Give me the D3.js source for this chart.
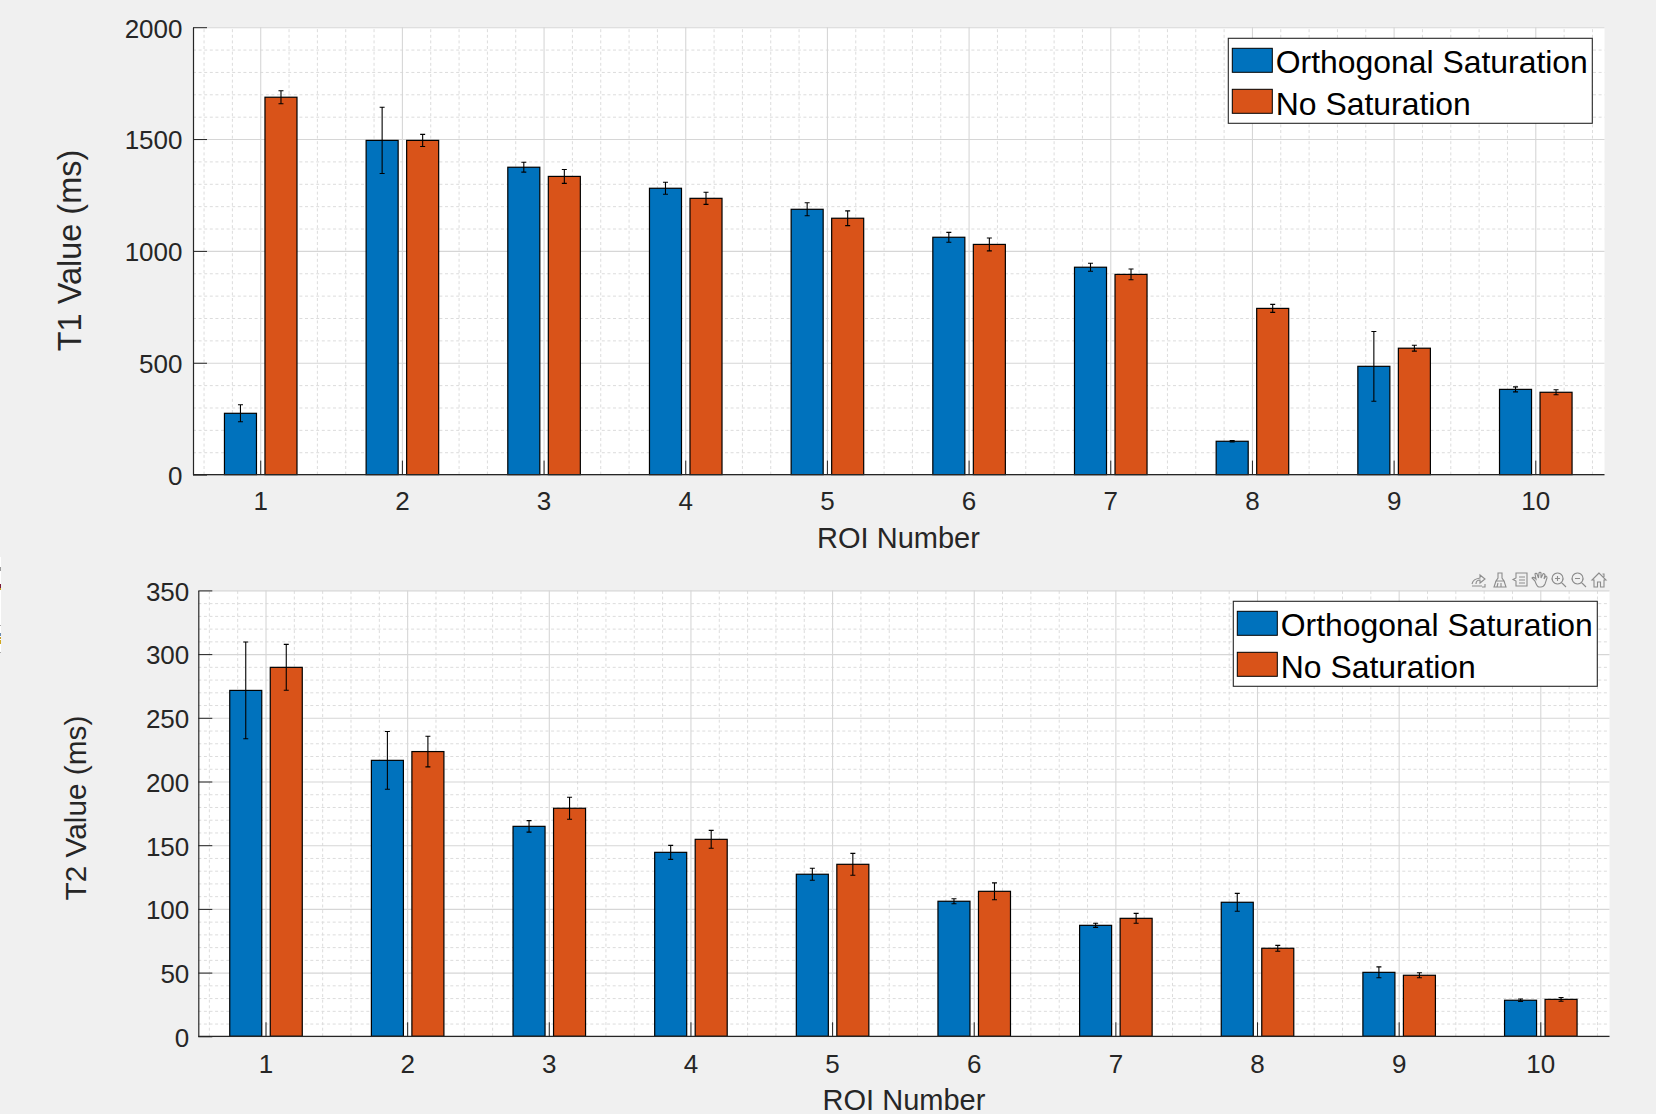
<!DOCTYPE html>
<html>
<head>
<meta charset="utf-8">
<script src="https://d3js.org/d3.v7.min.js"></script>
<style>
    html, body { margin: 0; padding: 0; background: #f0f0f0; }
    svg { display: block; font-family: "Liberation Sans", Arial, sans-serif; }
    .axis path.domain { stroke: #262626; stroke-width: 1.2; }
    .axis line { stroke: #262626; stroke-width: 1; }
    .axis text { fill: #262626; font-size: 26px; }
    .grid path.domain { display: none; }
    .grid text { display: none; }
    .grid--major line { stroke: #d6d6d6; stroke-width: 1.1; }
    .grid--minor line { stroke: #dcdcdc; stroke-width: 1; stroke-dasharray: 3 2.6; }
    .title { fill: #262626; text-anchor: middle; }
    .bar { stroke: #000; stroke-width: 1.2; }
    .err { stroke: #000; stroke-width: 1.1; fill: none; }
    .legend text { fill: #000; font-size: 31.9px; }
    .icon { fill: none; stroke: #8c8c8c; stroke-width: 1.1; }
</style>
</head>
<body>
<svg id="chart" width="1656" height="1114"></svg>
<script>
/* global d3 */

// ROI nummers + waardes
var categories = [1, 2, 3, 4, 5, 6, 7, 8, 9, 10];
var seriesNames = ["Orthogonal Saturation", "No Saturation"];
var seriesColors = ["#0072bd", "#d95319"];

var t1Orth = [274, 1494, 1374, 1280, 1186, 1061, 927, 149, 484, 381];
var t1OrthErr = [38, 148, 22, 27, 29, 22, 18, 3, 156, 11];
var t1None = [1687, 1494, 1333, 1235, 1146, 1029, 895, 743, 565, 368];
var t1NoneErr = [29, 27, 31, 27, 33, 29, 24, 18, 13, 11];

var t2Orth = [271.5, 216.6, 164.8, 144.4, 127.2, 106, 87.1, 105.2, 50.2, 28.3];
var t2OrthErr = [38, 22.7, 4.5, 5.5, 4.7, 2, 1.6, 7, 4.3, 1];
var t2None = [289.6, 223.5, 179, 154.6, 135, 113.8, 92.6, 69.1, 47.9, 29];
var t2NoneErr = [18, 12, 8.6, 7, 8.6, 6.6, 3.9, 2.3, 2, 1.5];

var t1Ticks = [0, 500, 1000, 1500, 2000];
var t2Ticks = [0, 50, 100, 150, 200, 250, 300, 350];
var t1MinorStep = 100;
var t2MinorStep = 10;
var xMinorStep = 0.2;

var xLimits = [0.522, 10.485];
var barWidth = 0.226;
var barOffset = 0.143;

var svg = d3.select("#chart");

function minorValues(lo, hi, step, majors) {
    var out = [];
    var n = Math.round((hi - lo) / step);
    for (var i = 0; i <= n; i++) {
        var v = Math.round((lo + i * step) * 100) / 100;
        if (majors.indexOf(v) < 0) out.push(v);
    }
    return out;
}

function drawPanel(p) {
    var x = d3.scaleLinear().domain(xLimits).range([p.left, p.right]);
    var y = d3.scaleLinear().domain([0, p.yTicks[p.yTicks.length - 1]]).range([p.bottom, p.top]);
    var h = p.bottom - p.top;
    var w = p.right - p.left;

    // achtergrond van de axes
    svg.append("rect")
        .attr("x", p.left)
        .attr("y", p.top)
        .attr("width", w)
        .attr("height", h)
        .attr("fill", "#fff");

    // minor grid
    svg.append("g")
        .attr("class", "grid grid--minor")
        .attr("transform", "translate(0," + p.bottom + ")")
        .call(d3.axisBottom(x).offset(0).tickValues(minorValues(0.6, 10.4, xMinorStep, categories)).tickSize(-h).tickFormat(""));
    svg.append("g")
        .attr("class", "grid grid--minor")
        .attr("transform", "translate(" + p.left + ",0)")
        .call(d3.axisLeft(y).tickValues(minorValues(0, y.domain()[1], p.yMinorStep, p.yTicks)).tickSize(-w).tickFormat(""));

    // major grid
    svg.append("g")
        .attr("class", "grid grid--major")
        .attr("transform", "translate(0," + p.bottom + ")")
        .call(d3.axisBottom(x).offset(0).tickValues(categories).tickSize(-h).tickFormat(""));
    svg.append("g")
        .attr("class", "grid grid--major")
        .attr("transform", "translate(" + p.left + ",0)")
        .call(d3.axisLeft(y).tickValues(p.yTicks).tickSize(-w).tickFormat(""));

    // bars + error bars
    p.series.forEach(function (s, k) {
        var offset = k === 0 ? -barOffset : barOffset;
        var g = svg.append("g");

        g.selectAll(".bar")
            .data(categories)
            .enter().append("rect")
            .attr("class", "bar")
            .attr("x", function (d) { return x(d + offset - barWidth / 2); })
            .attr("width", x(barWidth) - x(0))
            .attr("y", function (d, i) { return y(s.values[i]); })
            .attr("height", function (d, i) { return p.bottom - y(s.values[i]); })
            .attr("fill", seriesColors[k]);

        g.selectAll(".err")
            .data(categories)
            .enter().append("path")
            .attr("class", "err")
            .attr("d", function (d, i) {
                var cx = x(d + offset);
                var hi = y(s.values[i] + s.err[i]);
                var lo = y(s.values[i] - s.err[i]);
                return "M" + (cx - 2.5) + "," + hi + "H" + (cx + 2.5) +
                    "M" + cx + "," + hi + "V" + lo +
                    "M" + (cx - 2.5) + "," + lo + "H" + (cx + 2.5);
            });
    });

    // assen
    svg.append("g")
        .attr("class", "axis axis--x")
        .attr("transform", "translate(0," + p.bottom + ")")
        .call(d3.axisBottom(x).offset(0).tickValues(categories).tickFormat(d3.format("d")).tickSize(-14).tickSizeOuter(0).tickPadding(p.xPadding));
    svg.append("g")
        .attr("class", "axis axis--y")
        .attr("transform", "translate(" + p.left + ",0)")
        .call(d3.axisLeft(y).tickValues(p.yTicks).tickFormat(d3.format("d")).tickSize(-14).tickSizeOuter(0).tickPadding(p.yPadding))
        .selectAll("text")
        .attr("dy", "0.38em");

    svg.append("text")
        .attr("class", "title")
        .attr("x", p.xTitleX)
        .attr("y", p.xTitleY)
        .style("font-size", "29px")
        .text("ROI Number");

    svg.append("text")
        .attr("class", "title")
        .attr("transform", "translate(" + p.yTitleX + "," + p.yTitleY + ") rotate(-90)")
        .style("font-size", p.yTitleSize + "px")
        .text(p.yTitle);

    // legenda
    var legend = svg.append("g")
        .attr("class", "legend")
        .attr("transform", "translate(" + p.legendX + "," + p.legendY + ")");

    legend.append("rect")
        .attr("width", 364)
        .attr("height", 85)
        .attr("fill", "#fff")
        .attr("stroke", "#262626")
        .attr("stroke-width", 1.1);

    seriesNames.forEach(function (name, k) {
        legend.append("rect")
            .attr("x", 4)
            .attr("y", 10 + k * 41)
            .attr("width", 40)
            .attr("height", 24)
            .attr("fill", seriesColors[k])
            .attr("stroke", "#000")
            .attr("stroke-width", 1);
        legend.append("text")
            .attr("x", 47.5)
            .attr("y", 34.8 + k * 42.4)
            .text(name);
    });
}

drawPanel({
    left: 193, right: 1604.5, top: 27.2, bottom: 474.6,
    yTicks: t1Ticks, yMinorStep: t1MinorStep, xPadding: 17, yPadding: 10.5,
    series: [{values: t1Orth, err: t1OrthErr}, {values: t1None, err: t1NoneErr}],
    xTitleX: 898.5, xTitleY: 547.5,
    yTitle: "T1 Value (ms)", yTitleX: 80.7, yTitleY: 250.5, yTitleSize: 32.5,
    legendX: 1228.3, legendY: 38.3
});

drawPanel({
    left: 198.3, right: 1609.5, top: 590.4, bottom: 1036.3,
    yTicks: t2Ticks, yMinorStep: t2MinorStep, xPadding: 18, yPadding: 9,
    series: [{values: t2Orth, err: t2OrthErr}, {values: t2None, err: t2NoneErr}],
    xTitleX: 904, xTitleY: 1109.5,
    yTitle: "T2 Value (ms)", yTitleX: 85.7, yTitleY: 808, yTitleSize: 29.8,
    legendX: 1233.3, legendY: 601.3
});

// axes toolbar rechtsboven de onderste grafiek
var toolbar = svg.append("g").attr("class", "icon").attr("transform", "translate(0,572)");
var icons = [
    [1471, "M1,12 C2,8 4,7 9,6 L9,3 L14,7 L9,11 L9,8 C6,8 5,10 5,12 M1,14 H11 M14,12 V15 H11"],
    [1493, "M5,1 H9 V6 L11,9 H3 L5,6 Z M3,9 L1,15 H13 L11,9 M5,11 L4,15 M8,11 V15"],
    [1512, "M4,1 H15 V14 H4 V9 L1,7.5 L4,6 Z M7,5 H13 M7,8 H13 M7,11 H13"],
    [1531, "M4,9 L1,6 C1,5 3,5 5,7 L4,2 C4,1 6,1 6,2 L7.5,6 L8,1 C8,0 10,0 10,1 L10,6 L12,2 C12,1 14,2 14,3 L13,7 L15,4 C16,4 16,5 16,6 L14,12 C13,14 12,15 10,15 H8 C6,15 5,12 4,9 Z"],
    [1551, "M6.5,1 A5.5,5.5 0 1 0 6.6,1 Z M10.5,10.5 L15,15 M4,6.5 H9 M6.5,4 V9"],
    [1571, "M6.5,1 A5.5,5.5 0 1 0 6.6,1 Z M10.5,10.5 L15,15 M4,6.5 H9"],
    [1591, "M8,1 L1,8 H3 V15 H6.5 V10 H9.5 V15 H13 V8 H15 Z M11.5,2 H13 V5"]
];
icons.forEach(function (d) {
    toolbar.append("path")
        .attr("transform", "translate(" + d[0] + ",0)")
        .attr("d", d[1]);
});

// stukje van een ander venster aan de linkerrand
var edgeMarks = [[567, 4, "#9a9a9a"], [584, 4, "#7a1a3a"], [588, 2, "#c8a020"], [625, 1, "#aaa"], [633, 3, "#6a8ab0"], [637, 2, "#c89a20"], [640, 4, "#d0a820"], [652, 1, "#aaa"]];
svg.append("rect").attr("x", 0).attr("y", 557).attr("width", 1).attr("height", 96).attr("fill", "#fff");
svg.selectAll(".edge")
    .data(edgeMarks)
    .enter().append("rect")
    .attr("class", "edge")
    .attr("x", 0)
    .attr("y", function (d) { return d[0]; })
    .attr("width", 1)
    .attr("height", function (d) { return d[1]; })
    .attr("fill", function (d) { return d[2]; });
</script>
</body>
</html>
